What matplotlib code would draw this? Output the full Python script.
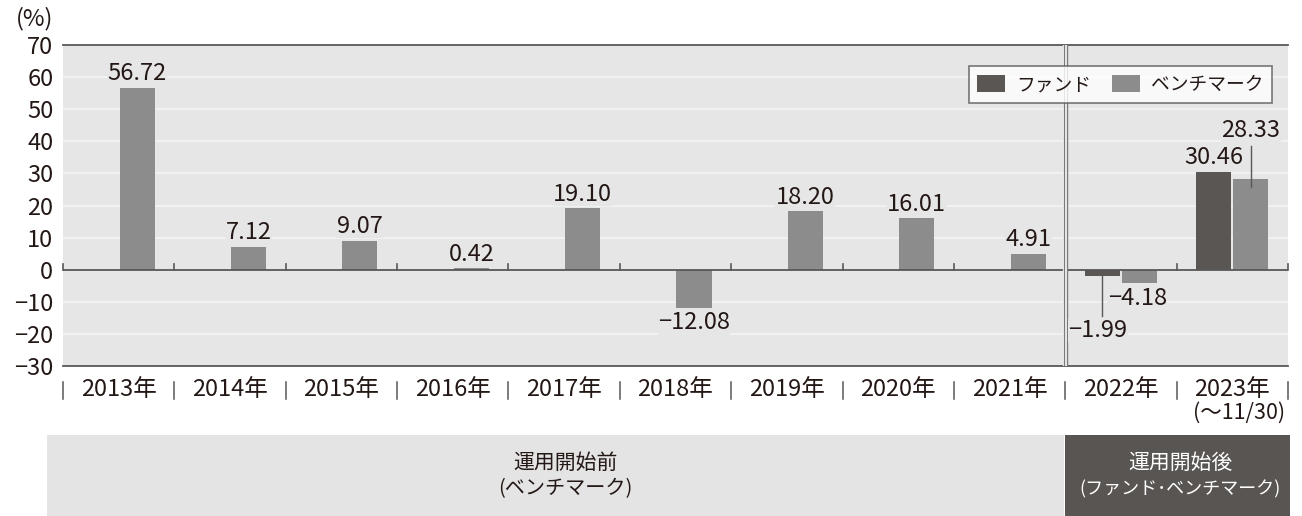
import matplotlib
matplotlib.use("Agg")
from matplotlib import pyplot as plt
from matplotlib.patches import Rectangle
import matplotlib.transforms as mtransforms

plt.rcParams['font.family'] = ['Noto Sans CJK JP', 'DejaVu Sans']

years = ["2013年", "2014年", "2015年", "2016年", "2017年", "2018年",
         "2019年", "2020年", "2021年", "2022年", "2023年"]
last_note = "(〜11/30)"
fund = [None, None, None, None, None, None, None, None, None, -1.99, 30.46]
bench = [56.72, 7.12, 9.07, 0.42, 19.10, -12.08, 18.20, 16.01, 4.91, -4.18, 28.33]
yticks = [-30, -20, -10, 0, 10, 20, 30, 40, 50, 60, 70]

c_fund = "#5a5654"
c_bench = "#8c8c8c"
c_bg = "#e6e6e6"
c_dark = "#595757"
c_text = "#231815"
fs = 17


def fmt(v):
    return f"{v:.2f}".replace("-", "−")


W, H = 1302, 516
fig = plt.figure(figsize=(W / 100, H / 100), dpi=100)
ax = fig.add_axes([63 / W, 1 - 366 / H, (1288 - 63) / W, (366 - 45) / H])
ax.set_facecolor(c_bg)

n = len(years)
xs = list(range(n))
bw = 0.315
off = 0.166

ax.set_xlim(-0.5, n - 0.5)
ax.set_ylim(-30, 70)
for y in yticks[1:-1]:
    if y != 0:
        ax.axhline(y, color="#f4f4f4", lw=1.2, zorder=1)
ax.axhline(0, color=c_dark, lw=1.3, zorder=4)
for s in ["left", "right"]:
    ax.spines[s].set_visible(False)
for s in ["top", "bottom"]:
    ax.spines[s].set_color(c_dark)
    ax.spines[s].set_linewidth(1.3)

ax.set_xticks([])
ax.set_yticks(yticks)
ax.set_yticklabels([str(v).replace("-", "−") for v in yticks], fontsize=fs, color=c_text)
ax.tick_params(axis="y", length=0, pad=7)

# bars
fx = [x - off for x, v in zip(xs, fund) if v is not None]
fv = [v for v in fund if v is not None]
ax.bar(fx, fv, bw, color=c_fund, zorder=3, label="ファンド")
ax.bar([x + off for x in xs], bench, bw, color=c_bench, zorder=3, label="ベンチマーク")

# zero-line ticks at category boundaries
for b in range(n + 1):
    ax.plot([b - 0.5, b - 0.5], [0, 1.8], color=c_dark, lw=1.2, zorder=4, clip_on=False)

# double divider between 2021 and 2022
ax.axvline(8.5, color="white", lw=3, zorder=5)
ax.axvline(8.5 - 0.014, color="#7a7a7a", lw=1, zorder=6)
ax.axvline(8.5 + 0.014, color="#7a7a7a", lw=1, zorder=6)

lbl = dict(fontsize=fs, color=c_text, ha="center", zorder=7,
           bbox=dict(facecolor=c_bg, edgecolor="none", pad=0.3))

# value labels
for x, v in zip(xs[:9], bench[:9]):
    if v >= 0:
        ax.annotate(fmt(v), (x + off, v), xytext=(0, 2), textcoords="offset points",
                    va="bottom", **lbl)
    else:
        ax.annotate(fmt(v), (x + off, v), xytext=(0, -2),
                    textcoords="offset points", va="top", **lbl)

# 2022
ax.plot([9 - off, 9 - off], [fund[9], -14.3], color=c_dark, lw=1, zorder=6)
ax.text(9 - off - 0.04, -19, fmt(fund[9]), va="center", **lbl)
ax.text(9 + off - 0.02, -9.0, fmt(bench[9]), va="center", **lbl)
# 2023
ax.annotate(fmt(fund[10]), (10 - off, fund[10]), xytext=(0, 2), textcoords="offset points",
            va="bottom", **lbl)
ax.plot([10 + off, 10 + off], [bench[10] - 2.5, 38.6], color=c_dark, lw=1, zorder=6)
ax.text(10 + off, 43.3, fmt(bench[10]), va="center", **lbl)

# category labels and separators
trans = mtransforms.blended_transform_factory(ax.transData, ax.transAxes)
for b in range(n + 1):
    ax.plot([b - 0.5, b - 0.5], [-0.05, -0.103], color=c_dark, lw=1.1,
            transform=trans, clip_on=False)
for x, name in zip(xs, years):
    ax.text(x, -0.074, name, transform=trans, ha="center", va="center",
            fontsize=fs, color=c_text)
ax.text(10.06, -0.146, last_note, transform=trans, ha="center", va="center",
        fontsize=15.5, color=c_text)

fig.text(35 / W, 1 - 19 / H, "(%)", fontsize=fs, color=c_text, ha="center", va="center")

leg = ax.legend(loc="upper right", bbox_to_anchor=(1271 / 1288, 1 - 21 / 321),
                ncol=2, fontsize=13.5, frameon=True, fancybox=False, handlelength=1.5,
                handleheight=1.07, handletextpad=0.59, columnspacing=1.12,
                borderpad=0.43, borderaxespad=0)
leg.get_frame().set_edgecolor(c_dark)
leg.get_frame().set_linewidth(1.2)
leg.get_frame().set_facecolor("white")
for t in leg.get_texts():
    t.set_color(c_text)
leg.set_zorder(10)

# bottom bands
fig.patches.append(Rectangle((47 / W, 0), (1064 - 47) / W, (516 - 435) / H,
                             transform=fig.transFigure, facecolor="#e4e4e4", edgecolor="none"))
fig.patches.append(Rectangle((1065 / W, 0), (1290 - 1065) / W, (516 - 435) / H,
                             transform=fig.transFigure, facecolor="#595552", edgecolor="none"))
fig.text(565 / W, 1 - 463 / H, "運用開始前", fontsize=15, color=c_text,
         ha="center", va="center")
fig.text(565 / W, 1 - 489 / H, "(ベンチマーク)", fontsize=14.5, color=c_text,
         ha="center", va="center")
fig.text(1180 / W, 1 - 463 / H, "運用開始後", fontsize=15, color="white",
         ha="center", va="center")
fig.text(1180 / W, 1 - 489 / H, "(ファンド･ベンチマーク)", fontsize=13, color="white",
         ha="center", va="center")

fig.savefig("out.png", dpi=100)
